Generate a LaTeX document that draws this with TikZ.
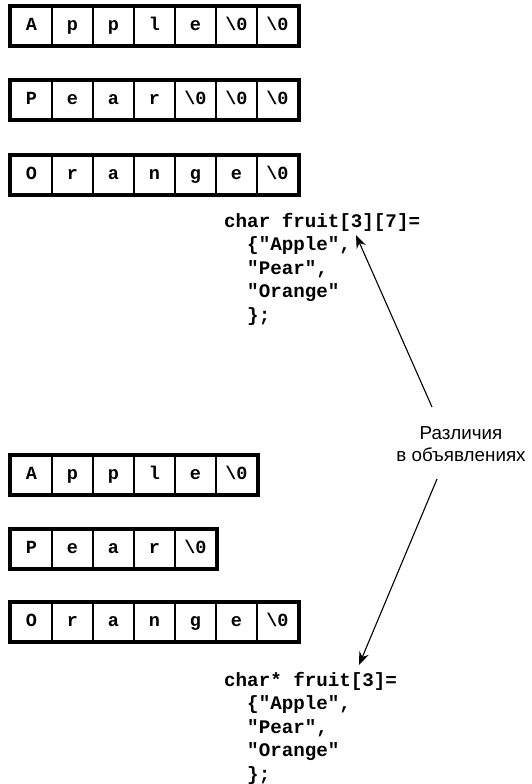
\documentclass[tikz,border=0pt]{standalone}
\usepackage{fontspec}
\setmainfont{Liberation Sans}
\setmonofont{Liberation Mono}
\usetikzlibrary{arrows.meta,positioning}
\tikzset{>=Stealth}
\tikzset{
  cell/.style={draw, line width=1.8pt, minimum width=41pt, minimum height=38pt, inner sep=0pt, text height=12pt, text depth=3pt, anchor=north west, font=\ttfamily\bfseries\fontsize{18.5}{18.5}\selectfont},
  frame/.style={draw, line width=3.6pt},
  code/.style={align=left, anchor=base west, inner sep=0pt, font=\ttfamily\bfseries\fontsize{19.2}{23.5}\selectfont},
  diffnote/.style={align=center, inner sep=0pt, font=\fontsize{18.8}{22}\selectfont},
  arrow/.style={-{Stealth[length=13pt,width=10pt]}, line width=1.1pt},
}
\newcommand{\eos}{\textbackslash0}

\begin{document}
\begin{tikzpicture}[x=1pt,y=-1pt]
\useasboundingbox (0,0) rectangle (531,784);

% char fruit[3][7]
\foreach \ch [count=\i] in {A,p,p,l,e,\eos,\eos}
  \node[cell] (a\i) at ({10+41*(\i-1)},6) {\ch};
\draw[frame] (a1.north west) rectangle (a7.south east);
\foreach \ch [count=\i] in {P,e,a,r,\eos,\eos,\eos}
  \node[cell] (b\i) at ({10+41*(\i-1)},80) {\ch};
\draw[frame] (b1.north west) rectangle (b7.south east);
\foreach \ch [count=\i] in {O,r,a,n,g,e,\eos}
  \node[cell] (c\i) at ({10+41*(\i-1)},155) {\ch};
\draw[frame] (c1.north west) rectangle (c7.south east);

\node[code] (decltwo) at (224,321) {char fruit[3][7]=\\~~\{"Apple",\\~~"Pear",\\~~"Orange"\\~~\};};

% char* fruit[3]
\foreach \ch [count=\i] in {A,p,p,l,e,\eos}
  \node[cell] (d\i) at ({10+41*(\i-1)},455) {\ch};
\draw[frame] (d1.north west) rectangle (d6.south east);
\foreach \ch [count=\i] in {P,e,a,r,\eos}
  \node[cell] (e\i) at ({10+41*(\i-1)},529) {\ch};
\draw[frame] (e1.north west) rectangle (e5.south east);
\foreach \ch [count=\i] in {O,r,a,n,g,e,\eos}
  \node[cell] (f\i) at ({10+41*(\i-1)},602) {\ch};
\draw[frame] (f1.north west) rectangle (f7.south east);

\node[code] (declptr) at (224,780) {char* fruit[3]=\\~~\{"Apple",\\~~"Pear",\\~~"Orange"\\~~\};};

% note and arrows
\node[diffnote] (diff) at (461,444) {Различия\\в объявлениях};
\coordinate (diffup) at (432,407);
\coordinate (diffdown) at (437,479);
\coordinate (tiptwo) at (356,235);
\coordinate (tipptr) at (359,665);
\draw[arrow] (diffup) -- (tiptwo);
\draw[arrow] (diffdown) -- (tipptr);
\end{tikzpicture}
\end{document}
